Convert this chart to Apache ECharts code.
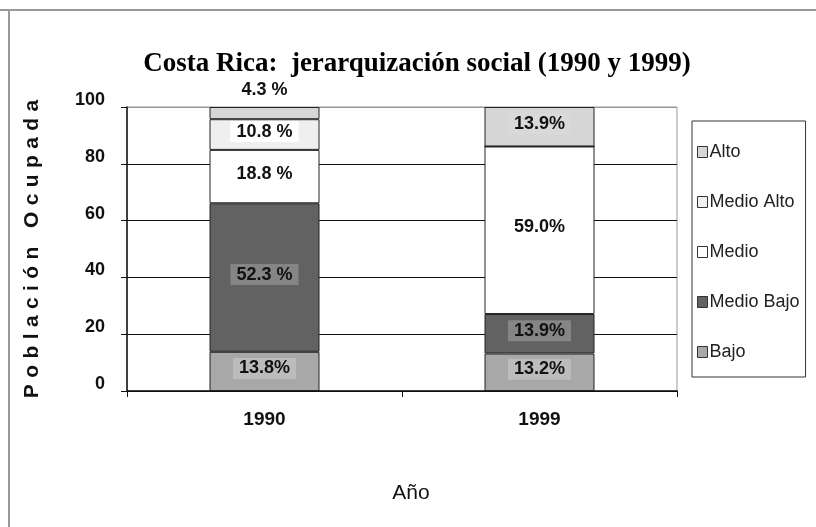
<!DOCTYPE html>
<html>
<head>
<meta charset="utf-8">
<script src="https://cdn.jsdelivr.net/npm/echarts@6/dist/echarts.min.js"></script>
<style>
  html, body { margin: 0; padding: 0; background: #fff; }
  #chart { width: 816px; height: 527px; }
</style>
</head>
<body>
<div id="chart"></div>
<script>
const years = ["1990", "1999"];
const yTicks = [0, 20, 40, 60, 80, 100];

// stacked bottom -> top
const seriesNames = ["Bajo", "Medio Bajo", "Medio", "Medio Alto", "Alto"];
const bajo = [13.8, 13.2];
const medioBajo = [52.3, 13.9];
const medio = [18.8, 59.0];
const medioAlto = [10.8, 0];
const alto = [4.3, 13.9];

const bajoLabels = ["13.8%", "13.2%"];
const medioBajoLabels = ["52.3 %", "13.9%"];
const medioLabels = ["18.8 %", "59.0%"];
const medioAltoLabels = ["10.8 %", ""];
const altoLabels = ["4.3 %", "13.9%"];

const FONT = "Liberation Sans, Arial, sans-serif";
const yName = "Población Ocupada";

function makeSeries(name, data, labels, color, labelBg) {
  return {
    name,
    type: "bar",
    stack: "total",
    barWidth: "40%",
    data: data.map((v, i) => {
      const item = { value: v, labelText: labels[i] };
      if (!labels[i]) item.label = { show: false };
      return item;
    }),
    itemStyle: { color, borderColor: "#222", borderWidth: 1 },
    label: {
      show: true,
      position: "inside",
      offset: [0, -3],
      formatter: (p) => p.data.labelText,
      fontFamily: FONT,
      fontWeight: "bold",
      fontSize: 18,
      color: "#111",
      backgroundColor: labelBg,
      padding: [2, 6, 1, 6],
    },
  };
}

const series = [
  makeSeries("Bajo", bajo, bajoLabels, "#a8a8a8", "#bcbcbc"),
  makeSeries("Medio Bajo", medioBajo, medioBajoLabels, "#626262", "#858585"),
  makeSeries("Medio", medio, medioLabels, "#fefefe", "#ffffff"),
  makeSeries("Medio Alto", medioAlto, medioAltoLabels, "#efefef", "#ffffff"),
  makeSeries("Alto", alto, altoLabels, "#d6d6d6", "#d9d9d9"),
];
// 4.3 % sits above the 1990 bar
series[4].data[0].label = {
  position: "top",
  distance: 7,
  offset: [0, 0],
  backgroundColor: "transparent",
};

const chart = echarts.init(document.getElementById("chart"));
chart.setOption({
  animation: false,
  backgroundColor: "#fff",
  title: {
    text: "Costa Rica:  jerarquización social (1990 y 1999)",
    left: 412,
    top: 46,
    textAlign: "center",
    textStyle: {
      fontFamily: "Liberation Serif, Times New Roman, serif",
      fontWeight: "bold",
      fontSize: 27,
      color: "#000",
    },
  },
  legend: {
    orient: "vertical",
    left: 692,
    top: 121,
    data: seriesNames.slice().reverse(),
    icon: "rect",
    itemWidth: 10,
    itemHeight: 11,
    itemGap: 32,
    padding: [22, 6, 16, 5],
    borderColor: "#333",
    borderWidth: 1,
    itemStyle: { borderColor: "#333", borderWidth: 1 },
    textStyle: {
      fontFamily: FONT,
      fontSize: 18,
      color: "#222",
      padding: [0, 0, 0, -3],
    },
  },
  grid: {
    left: 127,
    right: 139,
    top: 107,
    bottom: 136,
    show: true,
    borderColor: "#999",
    borderWidth: 1,
  },
  xAxis: {
    type: "category",
    data: years,
    name: "Año",
    nameLocation: "middle",
    nameGap: 92,
    nameTextStyle: { fontFamily: FONT, fontSize: 21, color: "#111", padding: [0, 0, 0, 18] },
    axisLine: { lineStyle: { color: "#111", width: 1.5 } },
    axisTick: { show: true, length: 6, lineStyle: { color: "#111" } },
    axisLabel: {
      fontFamily: FONT,
      fontWeight: "bold",
      fontSize: 19,
      color: "#111",
      margin: 19,
    },
  },
  yAxis: {
    type: "value",
    min: yTicks[0],
    max: yTicks[yTicks.length - 1],
    interval: 20,
    name: yName.split("").map((c) => `{s|${c}}`).join(""),
    nameLocation: "middle",
    nameRotate: 90,
    nameGap: 84,
    nameTextStyle: {
      fontFamily: FONT,
      fontWeight: "bold",
      fontSize: 21,
      color: "#111",
      rich: {
        s: {
          fontFamily: FONT,
          fontWeight: "bold",
          fontSize: 21,
          color: "#111",
          padding: [0, 3.2],
        },
      },
    },
    axisLine: { show: true, lineStyle: { color: "#111", width: 1.5 } },
    axisTick: { show: true, length: 6, lineStyle: { color: "#111" } },
    axisLabel: {
      fontFamily: FONT,
      fontWeight: "bold",
      fontSize: 18,
      color: "#111",
      margin: 22,
      verticalAlign: "bottom",
      lineHeight: 14,
    },
    splitLine: {
      show: true,
      lineStyle: {
        color: ["#111", "#111", "#111", "#111", "#111", "#999"],
        width: 1.2,
      },
    },
  },
  graphic: [
    {
      type: "line",
      shape: { x1: 0, y1: 10, x2: 816, y2: 10 },
      style: { stroke: "#999", lineWidth: 2 },
    },
    {
      type: "line",
      shape: { x1: 9, y1: 10, x2: 9, y2: 527 },
      style: { stroke: "#999", lineWidth: 2 },
    },
  ],
  series,
});
</script>
</body>
</html>
